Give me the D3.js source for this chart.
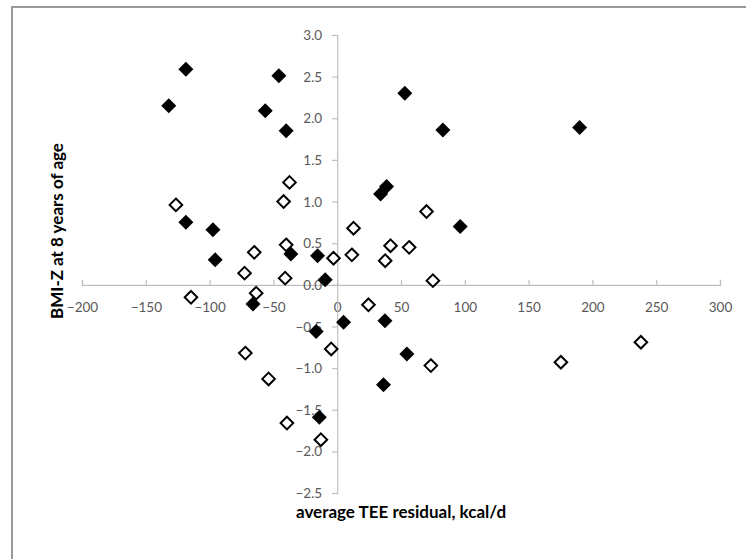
<!DOCTYPE html>
<html>
<head>
  <meta charset="utf-8">
  <script src="https://d3js.org/d3.v7.min.js"></script>
  <style>
    body { margin: 0; background: #fff; }
    .tick text { font-family: Lato, "Open Sans", sans-serif; font-size: 13.5px; fill: #595959; }
    .axisLabel { font-family: Lato, "Open Sans", sans-serif; font-size: 17px; font-weight: bold; fill: #000; }
  </style>
</head>
<body>
  <script>
    var outerWidth = 746,
      outerHeight = 559;

    // axis extents and ticks
    var xTicks = [-200, -150, -100, -50, 0, 50, 100, 150, 200, 250, 300];
    var yTicks = [-2.5, -2.0, -1.5, -1.0, -0.5, 0.0, 0.5, 1.0, 1.5, 2.0, 2.5, 3.0];
    var xAxisLabel = 'average TEE residual, kcal/d';
    var yAxisLabel = 'BMI-Z at 8 years of age';

    // filled diamonds: [TEE residual, BMI-Z]
    var filledPoints = [
      [-132, 2.15], [-118.6, 2.59], [-45.7, 2.51], [-56.4, 2.09], [-40, 1.85],
      [-118.6, 0.75], [-97.4, 0.66], [-95.6, 0.30], [-36.3, 0.37], [-15.4, 0.35],
      [-9.4, 0.06], [53, 2.30], [82.8, 1.86], [190, 1.89], [38.7, 1.18],
      [34, 1.09], [96.4, 0.70], [-66, -0.23], [-16.5, -0.56], [5, -0.45],
      [-14, -1.59], [37.4, -0.43], [54.6, -0.83], [36.3, -1.20]
    ];

    // open diamonds: [TEE residual, BMI-Z]
    var openPoints = [
      [-126.4, 0.96], [-37.4, 1.23], [-42, 1.00], [12.8, 0.68], [-65, 0.39],
      [-40, 0.48], [-2.9, 0.32], [11.5, 0.36], [-72.6, 0.14], [-40.8, 0.08],
      [70, 0.88], [41.8, 0.47], [56.4, 0.45], [37.6, 0.29], [75, 0.05],
      [-114.6, -0.15], [-63.5, -0.10], [24.5, -0.24], [-72, -0.82], [-4.7, -0.77],
      [-53.8, -1.13], [-39.4, -1.66], [-12.8, -1.86], [73.4, -0.97], [175.3, -0.93],
      [238, -0.69]
    ];

    // plot area in pixels
    var plot = { left: 82, right: 720, top: 35, bottom: 493 };

    var xScale = d3.scaleLinear()
      .domain([-200, 300])
      .range([plot.left, plot.right]);

    var yScale = d3.scaleLinear()
      .domain([-2.5, 3.0])
      .range([plot.bottom, plot.top]);

    var svg = d3.select("body")
      .append("svg")
      .attr("width", outerWidth)
      .attr("height", outerHeight);

    svg.append("rect")
      .attr("width", outerWidth)
      .attr("height", outerHeight)
      .attr("fill", "#fff");

    // chart frame (only top and left edges show)
    svg.append("path")
      .attr("d", "M12," + outerHeight + " V7 H" + outerWidth)
      .attr("fill", "none")
      .attr("stroke", "#9a9a9a")
      .attr("stroke-width", 2);

    // x axis sits on y = 0, ticks point up
    var xAxis = d3.axisTop(xScale)
      .tickValues(xTicks)
      .tickSize(5)
      .tickSizeOuter(5)
      .tickFormat(d3.format("d"));

    var xAxisContainer = svg.append("g")
      .attr("transform", "translate(0 " + yScale(0) + ")")
      .call(xAxis);

    xAxisContainer.selectAll(".tick text")
      .attr("y", 0)
      .attr("dy", "27.5px")
      .attr("text-anchor", "middle");

    // y axis sits on x = 0, ticks point left
    var yAxis = d3.axisLeft(yScale)
      .tickValues(yTicks)
      .tickSize(5)
      .tickSizeOuter(5)
      .tickFormat(d3.format(".1f"));

    var yAxisContainer = svg.append("g")
      .attr("transform", "translate(" + xScale(0) + " 0)")
      .call(yAxis);

    yAxisContainer.selectAll(".tick text")
      .attr("x", -15)
      .attr("dy", "0.34em");

    svg.selectAll(".domain, .tick line")
      .attr("stroke", "#bfbfbf")
      .attr("stroke-width", 1.2);

    // diamonds
    function diamond(r) {
      return "M0," + (-r) + "L" + r + ",0L0," + r + "L" + (-r) + ",0Z";
    }

    svg.append("g")
      .selectAll("path")
      .data(openPoints)
      .enter()
      .append("path")
      .attr("d", diamond(6.3))
      .attr("transform", function(d) {
        return "translate(" + xScale(d[0]) + "," + yScale(d[1]) + ")";
      })
      .attr("fill", "#fff")
      .attr("stroke", "#000")
      .attr("stroke-width", 2);

    svg.append("g")
      .selectAll("path")
      .data(filledPoints)
      .enter()
      .append("path")
      .attr("d", diamond(7.5))
      .attr("transform", function(d) {
        return "translate(" + xScale(d[0]) + "," + yScale(d[1]) + ")";
      })
      .attr("fill", "#000");

    // axis titles
    svg.append("text")
      .attr("class", "axisLabel")
      .attr("x", (plot.left + plot.right) / 2)
      .attr("y", 518)
      .attr("text-anchor", "middle")
      .text(xAxisLabel);

    svg.append("text")
      .attr("class", "axisLabel")
      .attr("transform", "translate(63 231) rotate(-90)")
      .attr("text-anchor", "middle")
      .text(yAxisLabel);
  </script>
</body>
</html>
